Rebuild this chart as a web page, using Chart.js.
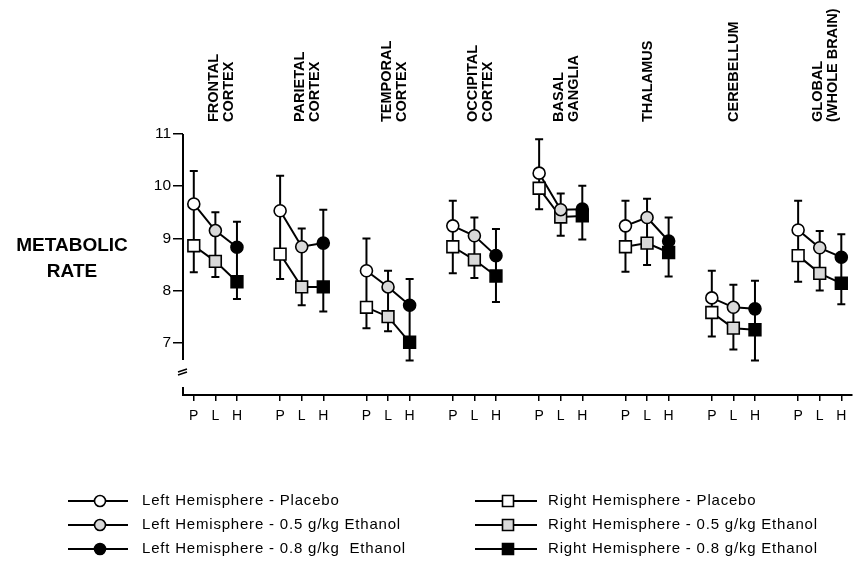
<!DOCTYPE html>
<html>
<head>
<meta charset="utf-8">
<script src="https://cdn.jsdelivr.net/npm/chart.js@4/dist/chart.umd.min.js"></script>
<style>
  html, body { margin: 0; padding: 0; background: #ffffff; }
  #wrap { width: 862px; height: 564px; }
</style>
</head>
<body>
<div id="wrap"><canvas id="c" width="862" height="564"></canvas></div>
<script>
// Brain regions (column headers) and dose conditions (P = placebo, L = 0.5 g/kg, H = 0.8 g/kg)
const regions = [
  ['FRONTAL', 'CORTEX'],
  ['PARIETAL', 'CORTEX'],
  ['TEMPORAL', 'CORTEX'],
  ['OCCIPITAL', 'CORTEX'],
  ['BASAL', 'GANGLIA'],
  ['THALAMUS'],
  ['CEREBELLUM'],
  ['GLOBAL', '(WHOLE BRAIN)']
];
const doses = ['P', 'L', 'H'];
const yTicks = [7, 8, 9, 10, 11];

// Left hemisphere means and top of their error bars, per region, in P/L/H order
const leftMean = [
  [9.66, 9.15, 8.83],
  [9.53, 8.84, 8.91],
  [8.38, 8.07, 7.72],
  [9.24, 9.05, 8.67],
  [10.25, 9.55, 9.56],
  [9.24, 9.40, 8.95],
  [7.86, 7.68, 7.65],
  [9.16, 8.82, 8.64]
];
const leftUpper = [
  [10.29, 9.50, 9.32],
  [10.20, 9.19, 9.55],
  [9.00, 8.38, 8.22],
  [9.72, 9.40, 9.18],
  [10.90, 9.86, 10.01],
  [9.72, 9.76, 9.40],
  [8.38, 8.11, 8.19],
  [9.72, 9.14, 9.08]
];

// Right hemisphere means and bottom of their error bars
const rightMean = [
  [8.86, 8.56, 8.17],
  [8.70, 8.07, 8.07],
  [7.68, 7.50, 7.01],
  [8.84, 8.59, 8.28],
  [9.96, 9.41, 9.43],
  [8.84, 8.91, 8.73],
  [7.58, 7.28, 7.25],
  [8.67, 8.33, 8.14]
];
const rightLower = [
  [8.35, 8.26, 7.84],
  [8.22, 7.72, 7.60],
  [7.28, 7.22, 6.66],
  [8.33, 8.24, 7.78],
  [9.56, 9.05, 8.98],
  [8.36, 8.49, 8.27],
  [7.12, 6.87, 6.66],
  [8.17, 8.00, 7.74]
];

const seriesNames = [
  'Left Hemisphere - Placebo',
  'Left Hemisphere - 0.5 g/kg Ethanol',
  'Left Hemisphere - 0.8 g/kg  Ethanol',
  'Right Hemisphere - Placebo',
  'Right Hemisphere - 0.5 g/kg Ethanol',
  'Right Hemisphere - 0.8 g/kg Ethanol'
];

// Each region occupies 4 slots on the x scale: P, L, H and a gap
const GROUP = 4;
const pos = (g, d) => g * GROUP + d;

const fills = ['#ffffff', '#d9d9d9', '#000000'];
const FONT = '"Liberation Sans", Arial, Helvetica, sans-serif';

function markerData(means, d) {
  return means.map((m, g) => ({ x: pos(g, d), y: m[d] }));
}
function lineData(means) {
  const out = [];
  means.forEach((m, g) => {
    m.forEach((v, d) => out.push({ x: pos(g, d), y: v }));
    out.push({ x: pos(g, 3), y: null });
  });
  return out;
}

const datasets = [];
// connecting lines within each region
[leftMean, rightMean].forEach((means, h) => {
  datasets.push({
    label: h === 0 ? 'left-line' : 'right-line',
    data: lineData(means),
    showLine: true,
    spanGaps: false,
    borderColor: '#000',
    borderWidth: 2,
    pointRadius: 0,
    order: 2,
    clip: false,
    isConnector: true
  });
});
// markers for each hemisphere x dose
[leftMean, rightMean].forEach((means, h) => {
  doses.forEach((_, d) => {
    datasets.push({
      label: seriesNames[h * 3 + d],
      data: markerData(means, d),
      showLine: false,
      pointStyle: h === 0 ? 'circle' : 'rect',
      pointRadius: h === 0 ? 6 : 8.3,
      pointBackgroundColor: fills[d],
      backgroundColor: fills[d],
      pointBorderColor: '#000',
      borderColor: '#000',
      pointBorderWidth: 1.6,
      order: 1,
      clip: false
    });
  });
});

// error bars spanning from the left-hemisphere top to the right-hemisphere bottom
const errorBars = {
  id: 'errorBars',
  beforeDatasetsDraw(chart) {
    const xs = chart.scales.x, ys = chart.scales.y, ctx = chart.ctx;
    ctx.save();
    ctx.strokeStyle = '#000';
    ctx.lineWidth = 2;
    leftUpper.forEach((row, g) => {
      row.forEach((top, d) => {
        const x = xs.getPixelForValue(pos(g, d));
        const y1 = ys.getPixelForValue(top);
        const y2 = ys.getPixelForValue(rightLower[g][d]);
        ctx.beginPath();
        ctx.moveTo(x, y1); ctx.lineTo(x, y2);
        ctx.moveTo(x - 4, y1); ctx.lineTo(x + 4, y1);
        ctx.moveTo(x - 4, y2); ctx.lineTo(x + 4, y2);
        ctx.stroke();
      });
    });
    ctx.restore();
  }
};

// broken y axis, region headers, y-axis title and the two-column key
const decorations = {
  id: 'decorations',
  afterDraw(chart) {
    const xs = chart.scales.x, ys = chart.scales.y, ctx = chart.ctx;
    const left = chart.chartArea.left, bottom = chart.chartArea.bottom;
    ctx.save();
    ctx.strokeStyle = '#000';
    ctx.fillStyle = '#000';

    // upper part of the y axis
    ctx.lineWidth = 2;
    ctx.beginPath();
    ctx.moveTo(left, ys.getPixelForValue(11));
    ctx.lineTo(left, ys.getPixelForValue(6.67));
    ctx.stroke();
    // axis break marks
    ctx.lineWidth = 1.5;
    ctx.beginPath();
    ctx.moveTo(left - 5, bottom - 23); ctx.lineTo(left + 4, bottom - 26);
    ctx.moveTo(left - 5, bottom - 20); ctx.lineTo(left + 4, bottom - 23);
    ctx.stroke();
    // stub of the axis at the baseline
    ctx.lineWidth = 2;
    ctx.beginPath();
    ctx.moveTo(left, bottom - 8); ctx.lineTo(left, bottom);
    ctx.stroke();

    // region headers, written bottom-to-top
    ctx.font = 'bold 14.5px ' + FONT;
    ctx.textAlign = 'left';
    ctx.textBaseline = 'middle';
    regions.forEach((lines, g) => {
      const cx = xs.getPixelForValue(pos(g, 1)) + (lines.length > 1 ? 6 : 1);
      lines.forEach((t, i) => {
        const x = cx + (i - (lines.length - 1) / 2) * 15;
        ctx.save();
        ctx.translate(x, 122);
        ctx.rotate(-Math.PI / 2);
        ctx.fillText(t, 0, 0);
        ctx.restore();
      });
    });

    // y-axis title
    ctx.font = 'bold 19px ' + FONT;
    ctx.textAlign = 'center';
    ctx.fillText('METABOLIC', 72, 246);
    ctx.fillText('RATE', 72, 272);

    // key
    const markers = chart.data.datasets.filter(ds => !ds.isConnector);
    const cols = [{ x0: 68, x1: 128, m: 100, t: 142 }, { x0: 475, x1: 537, m: 508, t: 548 }];
    const rows = [501, 525, 549];
    ctx.font = '15px ' + FONT;
    ctx.textAlign = 'left';
    if ('letterSpacing' in ctx) ctx.letterSpacing = '0.8px';
    markers.forEach((ds, i) => {
      const c = cols[Math.floor(i / 3)], y = rows[i % 3];
      ctx.lineWidth = 2;
      ctx.beginPath();
      ctx.moveTo(c.x0, y); ctx.lineTo(c.x1, y);
      ctx.stroke();
      ctx.lineWidth = 1.6;
      ctx.fillStyle = ds.pointBackgroundColor;
      ctx.beginPath();
      if (ds.pointStyle === 'circle') ctx.arc(c.m, y, 5.5, 0, Math.PI * 2);
      else ctx.rect(c.m - 5.5, y - 5.5, 11, 11);
      ctx.fill(); ctx.stroke();
      ctx.fillStyle = '#000';
      ctx.fillText(ds.label, c.t, y);
    });
    ctx.restore();
  }
};

const tickPositions = [];
regions.forEach((_, g) => doses.forEach((_, d) => tickPositions.push(pos(g, d))));

new Chart(document.getElementById('c'), {
  type: 'scatter',
  data: { datasets },
  options: {
    responsive: false,
    animation: false,
    devicePixelRatio: 1,
    layout: { padding: { left: 0, top: 134, right: 1, bottom: 139 } },
    plugins: { legend: { display: false }, tooltip: { enabled: false } },
    scales: {
      x: {
        type: 'linear',
        min: -0.5,
        max: GROUP * regions.length - 1.5,
        afterBuildTicks: s => { s.ticks = tickPositions.map(v => ({ value: v })); },
        afterFit: s => { s.height = 30; },
        border: { display: true, color: '#000', width: 2 },
        grid: { drawOnChartArea: false, drawTicks: true, tickLength: 6, color: '#000', lineWidth: 1.5 },
        ticks: {
          autoSkip: false, maxRotation: 0, padding: 7, color: '#000',
          font: { family: FONT, size: 14 },
          callback: v => doses[((v % GROUP) + GROUP) % GROUP]
        }
      },
      y: {
        min: 6,
        max: 11,
        afterBuildTicks: s => { s.ticks = yTicks.map(v => ({ value: v })); },
        afterFit: s => { s.width = 183; },
        border: { display: false },
        grid: { drawOnChartArea: false, drawTicks: true, tickLength: 10, color: '#000', lineWidth: 1.5 },
        ticks: { padding: 2, color: '#000', font: { family: FONT, size: 15.5 } }
      }
    }
  },
  plugins: [errorBars, decorations]
});
</script>
</body>
</html>
